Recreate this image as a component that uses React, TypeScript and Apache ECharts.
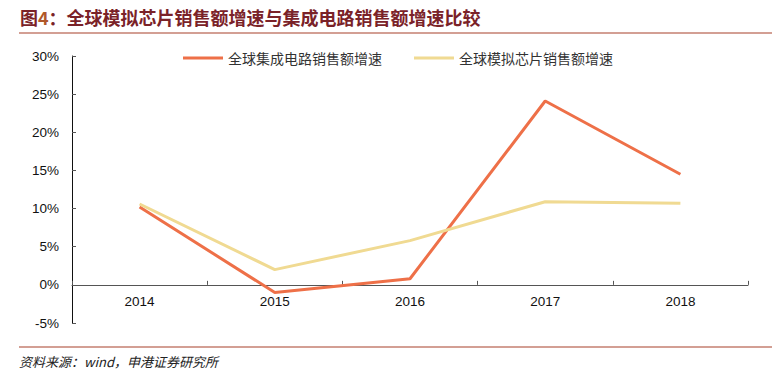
import React, { useEffect, useRef } from "react";
import * as echarts from "echarts";

const categories = ["2014", "2015", "2016", "2017", "2018"];
const icGrowth = [10.2, -1.0, 0.8, 24.1, 14.5];
const analogGrowth = [10.6, 2.0, 5.8, 10.9, 10.7];
const seriesNames = ["全球集成电路销售额增速", "全球模拟芯片销售额增速"];
const titleText = "全球模拟芯片销售额增速与集成电路销售额增速比较";
const sourceText = "资料来源：wind，申港证券研究所";

export default function App() {
  const ref = useRef<HTMLDivElement>(null);
  useEffect(() => {
    if (!ref.current) return;
    const chart = echarts.init(ref.current, null, { renderer: "svg" });
    chart.setOption({
      animation: false,
      textStyle: { fontFamily: "Arial, 'Liberation Sans', 'Noto Sans CJK SC'" },
      graphic: [
        {
          type: "text",
          left: 20,
          top: 8,
          style: {
            text: "{a|图}{b|4}{a|：" + titleText + "}",
            rich: {
              a: { fontSize: 18, fontWeight: "bold", fill: "#7a2228", fontFamily: "'Noto Sans CJK SC'" },
              b: { fontSize: 18, fontWeight: "bold", fill: "#b0582a", fontFamily: "'Noto Sans CJK SC'" },
            },
          },
        },
        { type: "line", shape: { x1: 19, y1: 33, x2: 772, y2: 33 }, style: { stroke: "#a8402a", lineWidth: 1.2 } },
        { type: "line", shape: { x1: 19, y1: 347, x2: 772, y2: 347 }, style: { stroke: "#a8402a", lineWidth: 1.2 } },
        {
          type: "text",
          left: 19,
          top: 355,
          style: {
            text: sourceText,
            fontSize: 13,
            fontStyle: "italic",
            fill: "#222",
            fontFamily: "'Noto Sans CJK SC'",
          },
        },
      ],
      legend: {
        top: 51,
        left: 183,
        padding: 0,
        itemWidth: 40,
        itemHeight: 3,
        itemGap: 32,
        icon: "rect",
        textStyle: { fontSize: 14, color: "#333", fontFamily: "'Noto Sans CJK SC'" },
        data: seriesNames,
      },
      grid: { left: 72, right: 32, top: 56, bottom: 55 },
      xAxis: {
        type: "category",
        data: categories,
        boundaryGap: true,
        axisLine: { onZero: true, lineStyle: { color: "#555", width: 1 } },
        axisTick: { show: true, inside: true, length: 4, lineStyle: { color: "#555" } },
        axisLabel: { color: "#111", fontSize: 13.5, margin: -28 },
      },
      yAxis: {
        type: "value",
        min: -5,
        max: 30,
        interval: 5,
        axisLine: { show: true, lineStyle: { color: "#111", width: 1 } },
        axisTick: { show: true, inside: true, length: 4, lineStyle: { color: "#555" } },
        splitLine: { show: false },
        axisLabel: { color: "#111", fontSize: 13.5, margin: 13, formatter: "{value}%" },
      },
      series: [
        {
          name: seriesNames[0],
          type: "line",
          data: icGrowth,
          symbol: "none",
          lineStyle: { color: "#ee7048", width: 3 },
          itemStyle: { color: "#ee7048" },
        },
        {
          name: seriesNames[1],
          type: "line",
          data: analogGrowth,
          symbol: "none",
          lineStyle: { color: "#f0da92", width: 3 },
          itemStyle: { color: "#f0da92" },
        },
      ],
    });
    return () => chart.dispose();
  }, []);
  return <div ref={ref} style={{ width: 780, height: 378, position: "absolute", left: 0, top: 0 }} />;
}
